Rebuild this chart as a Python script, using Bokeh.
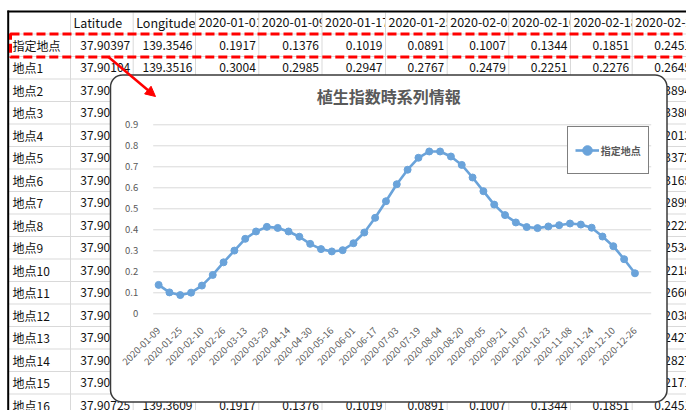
import math
from bokeh.plotting import figure
from bokeh.models import (Range1d, LinearAxis, FixedTicker, ColumnDataSource,
                          Legend, LegendItem, Label, Arrow, NormalHead)
from bokeh.core.properties import value
from bokeh.embed import file_html
from bokeh.resources import INLINE

# ---------------- data ----------------
col_headers = ["", "Latitude", "Longitude", "2020-01-01", "2020-01-09", "2020-01-17",
               "2020-01-25", "2020-02-02", "2020-02-10", "2020-02-18", "2020-02-26"]
row_labels = ["指定地点", "地点1", "地点2", "地点3", "地点4", "地点5", "地点6", "地点7",
              "地点8", "地点9", "地点10", "地点11", "地点12", "地点13", "地点14",
              "地点15", "地点16"]
latitudes = [37.90397, 37.90104, 37.90133, 37.90162, 37.90191, 37.90220, 37.90249,
             37.90278, 37.90307, 37.90336, 37.90365, 37.90434, 37.90463, 37.90492,
             37.90521, 37.90550, 37.90725]
longitudes = {0: 139.3546, 1: 139.3516, 16: 139.3609}
target_vals = [0.1917, 0.1376, 0.1019, 0.0891, 0.1007, 0.1344, 0.1851, 0.2451]
point1_vals = [0.3004, 0.2985, 0.2947, 0.2767, 0.2479, 0.2251, 0.2276, 0.2645]
point16_vals = [0.1917, 0.1376, 0.1019, 0.0891, 0.1007, 0.1344, 0.1851, 0.2451]
last_col_vals = [0.3894, 0.3380, 0.2013, 0.3372, 0.3165, 0.2899, 0.2222, 0.2534,
                 0.2218, 0.2666, 0.2038, 0.2427, 0.2827, 0.2171]

dates = ["2020-01-09", "2020-01-17", "2020-01-25", "2020-02-02", "2020-02-10",
         "2020-02-18", "2020-02-26", "2020-03-05", "2020-03-13", "2020-03-21",
         "2020-03-29", "2020-04-06", "2020-04-14", "2020-04-22", "2020-04-30",
         "2020-05-08", "2020-05-16", "2020-05-24", "2020-06-01", "2020-06-09",
         "2020-06-17", "2020-06-25", "2020-07-03", "2020-07-11", "2020-07-19",
         "2020-07-27", "2020-08-04", "2020-08-12", "2020-08-20", "2020-08-28",
         "2020-09-05", "2020-09-13", "2020-09-21", "2020-09-29", "2020-10-07",
         "2020-10-15", "2020-10-23", "2020-10-31", "2020-11-08", "2020-11-16",
         "2020-11-24", "2020-12-02", "2020-12-10", "2020-12-18", "2020-12-26"]
ndvi = [0.1376, 0.1019, 0.0891, 0.1007, 0.1344, 0.1851, 0.2451, 0.301, 0.357, 0.392,
        0.414, 0.409, 0.392, 0.367, 0.333, 0.308, 0.297, 0.303, 0.336, 0.387,
        0.457, 0.536, 0.617, 0.686, 0.743, 0.773, 0.773, 0.749, 0.709, 0.649,
        0.584, 0.520, 0.470, 0.435, 0.413, 0.408, 0.416, 0.422, 0.430, 0.425,
        0.410, 0.368, 0.322, 0.260, 0.193]
y_ticks = [0, 0.1, 0.2, 0.3, 0.4, 0.5, 0.6, 0.7, 0.8, 0.9]
y_tick_labels = ["0", "0.1", "0.2", "0.3", "0.4", "0.5", "0.6", "0.7", "0.8", "0.9"]
chart_title = "植生指数時系列情報"
series_name = "指定地点"

# ---------------- layout constants (pixels) ----------------
W, H = 686, 410
VX0, VX1, VY0, VY1 = 0, W, 0, H
col_edges = [8, 70, 132.7, 195, 258.3, 321.5, 385, 446.7, 508.3, 570, 631.7, 693.5]
hdr_top, hdr_bot, row_h = 12, 33.5, 22.5
FONT = "Noto Sans CJK JP"

box_l, box_r, box_t, box_b = 110, 666.5, 74.5, 401.5
plot_l, plot_r = 152.7, 650.7
y_zero_px, px_per_unit = 313.3, 210.0

n_slots = len(ndvi) + 1
px_per_slot = (plot_r - plot_l) / n_slots
cx_lo = -0.5 - (plot_l - VX0) / px_per_slot
cx_hi = -0.5 + n_slots + (VX1 - plot_r) / px_per_slot
cy_lo = (y_zero_px - VY1) / px_per_unit
cy_hi = (y_zero_px - VY0) / px_per_unit

p = figure(width=W, height=H, x_range=Range1d(VX0, VX1), y_range=Range1d(VY1, VY0),
           x_axis_type=None, y_axis_type=None, toolbar_location=None,
           output_backend="svg", min_border=0, outline_line_color=None)
p.background_fill_color = "white"
p.border_fill_color = "white"
p.extra_x_ranges = {"cx": Range1d(cx_lo, cx_hi)}
p.extra_y_ranges = {"cy": Range1d(cy_lo, cy_hi)}

# ---------------- spreadsheet ----------------
hdr_y = (hdr_top + hdr_bot) / 2 - 0.8
for j, h in enumerate(col_headers):
    p.quad(left=[col_edges[j]], right=[col_edges[j + 1]], top=[hdr_top], bottom=[hdr_bot],
           fill_color="white", line_color=None)
    if h:
        p.text(x=[col_edges[j] + 3], y=[hdr_y], text=[h], text_align="left",
               text_baseline="middle", text_font=value(FONT),
               text_font_size=value("12.5px"), text_color="#111111")

def row_center(i):
    return hdr_bot + row_h * i + row_h / 2

lx, ly, lt = [], [], []
rx, ry, rt = [], [], []
for i, lab in enumerate(row_labels):
    lx.append(12); ly.append(row_center(i)); lt.append(lab)
    rx.append(col_edges[2] - 3); ry.append(row_center(i)); rt.append(f"{latitudes[i]:.5f}")
    if i in longitudes:
        rx.append(col_edges[3] - 3); ry.append(row_center(i)); rt.append(f"{longitudes[i]:.4f}")
full_rows = {0: target_vals, 1: point1_vals, 16: point16_vals}
for i, vals in full_rows.items():
    for k, v in enumerate(vals):
        rx.append(col_edges[4 + k] - 3); ry.append(row_center(i)); rt.append(f"{v:.4f}")
for k, v in enumerate(last_col_vals):
    i = k + 2
    rx.append(col_edges[11] - 3); ry.append(row_center(i)); rt.append(f"{v:.4f}")

p.text(x=lx, y=ly, text=lt, text_align="left", text_baseline="middle",
       text_font=value(FONT), text_font_size=value("12px"), text_color="#111111")
p.text(x=rx, y=ry, text=rt, text_align="right", text_baseline="middle",
       text_font=value(FONT), text_font_size=value("12px"), text_color="#111111")

# grid lines
gx0, gy0, gx1, gy1 = [], [], [], []
for e in col_edges[1:]:
    gx0.append(e); gx1.append(e); gy0.append(hdr_top); gy1.append(420)
r_edges = [hdr_bot + row_h * i for i in range(0, 18)]
for e in r_edges:
    gx0.append(8); gx1.append(700); gy0.append(e); gy1.append(e)
p.segment(x0=gx0, y0=gy0, x1=gx1, y1=gy1, line_color="#D9D9D9", line_width=1)

# black outer border
p.segment(x0=[7, 7.7], y0=[11, 10], x1=[700, 7.7], y1=[11, 420], line_color="black", line_width=2)

# red dashed highlight
p.quad(left=[10], right=[705], top=[33.6], bottom=[56.4], fill_color=None,
       line_color="#FF0000", line_width=3, line_dash="9 4")

# ---------------- chart ----------------
p.quad(left=[box_l], right=[box_r], top=[box_t], bottom=[box_b], fill_color="white",
       line_color="#3a3a3a", line_width=1.5, border_radius=12)

p.segment(x0=[-0.5] * len(y_ticks), x1=[n_slots - 0.5] * len(y_ticks), y0=y_ticks, y1=y_ticks,
          x_range_name="cx", y_range_name="cy", line_color="#D9D9D9", line_width=1)

src = ColumnDataSource(dict(x=list(range(len(ndvi))), y=ndvi, date=dates))
blue = "#6AA3DA"
ln = p.line("x", "y", source=src, x_range_name="cx", y_range_name="cy",
            line_color=blue, line_width=2.6)
sc = p.scatter("x", "y", source=src, x_range_name="cx", y_range_name="cy",
               size=7, fill_color=blue, line_color=blue)

yaxis = LinearAxis(y_range_name="cy", fixed_location=plot_l,
                   ticker=FixedTicker(ticks=y_ticks),
                   major_label_overrides=dict(zip(y_ticks, y_tick_labels)))
yaxis.axis_line_color = None
yaxis.major_tick_line_color = None
yaxis.minor_tick_line_color = None
yaxis.major_label_standoff = 9
yaxis.major_label_text_font = FONT
yaxis.major_label_text_font_size = "9.5px"
yaxis.major_label_text_color = "#595959"
p.add_layout(yaxis, "left")

label_idx = list(range(0, len(dates), 2))
xaxis = LinearAxis(x_range_name="cx", fixed_location=y_zero_px,
                   ticker=FixedTicker(ticks=label_idx),
                   major_label_overrides={i: dates[i] for i in label_idx},
                   major_label_orientation=math.pi / 4)
xaxis.axis_line_color = None
xaxis.major_tick_line_color = None
xaxis.minor_tick_line_color = None
xaxis.major_label_standoff = 9
xaxis.major_label_text_font = FONT
xaxis.major_label_text_font_size = "9.5px"
xaxis.major_label_text_color = "#595959"
p.add_layout(xaxis, "below")

p.add_layout(Label(x=(box_l + box_r) / 2, y=95.5, text=chart_title, text_align="center",
                   text_baseline="middle", text_font=FONT, text_font_size="16px",
                   text_font_style="bold", text_color="#595959"))

legend = Legend(items=[LegendItem(label=series_name, renderers=[ln, sc])],
                location=(566.7 - VX0, VY1 - 174.3), margin=0, padding=7,
                glyph_width=24, glyph_height=32, label_standoff=2,
                label_text_font=FONT, label_text_font_size="10px",
                label_text_font_style="bold", label_text_color="#595959",
                border_line_color="black", border_line_width=1,
                background_fill_color="white", background_fill_alpha=1)
p.add_layout(legend)

p.add_layout(Arrow(end=NormalHead(size=10, fill_color="#FF0000", line_color="#FF0000"),
                   x_start=108, y_start=56.5, x_end=155, y_end=96,
                   line_color="#FF0000", line_width=2.5))

open("out.html", "w").write(file_html(p, INLINE))
